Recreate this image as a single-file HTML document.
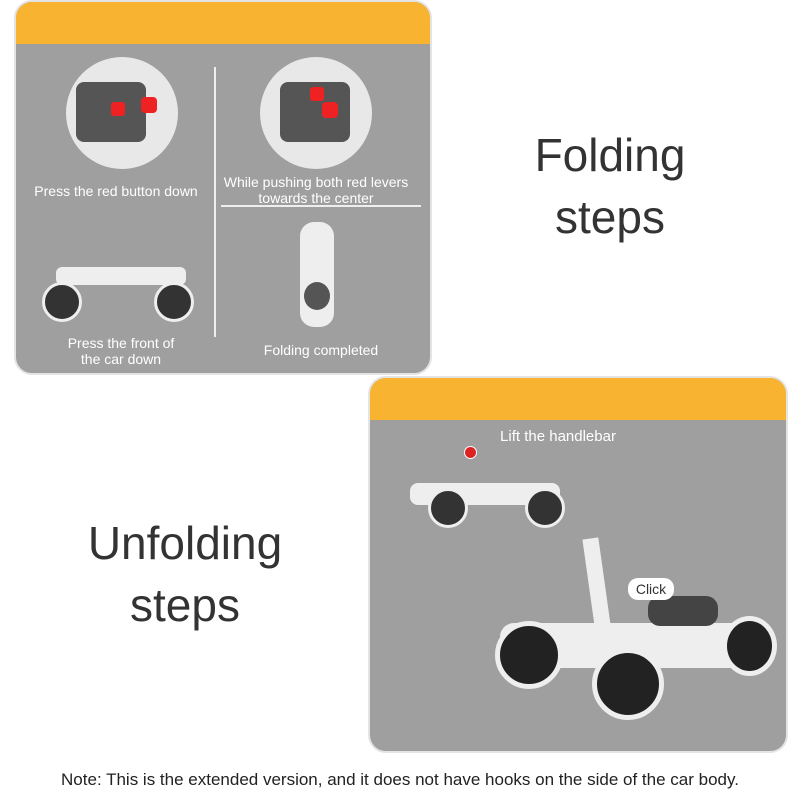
<!DOCTYPE html>
<html><head><meta charset="utf-8"><style>
body{margin:0;width:800px;height:800px;background:#fff;position:relative;overflow:hidden;font-family:"Liberation Sans",sans-serif}
.p{position:absolute;background:#9f9f9f;border-radius:18px;overflow:hidden;border:2px solid #e4e4e4;box-sizing:border-box}
.h{position:absolute;left:0;top:0;right:0;height:42px;background:#f8b431}
.t{position:absolute;color:#fff;font-size:14px;text-align:center;line-height:16px}
.big{position:absolute;color:#333;font-size:46px;text-align:center;line-height:62px}
.c{position:absolute;border-radius:50%;background:#e8e8e8;overflow:hidden}
</style></head><body>
<div class="p" style="left:14px;top:0;width:418px;height:375px">
<div class="h"></div>
<div style="position:absolute;left:198px;top:65px;width:2px;height:270px;background:#eee"></div>
<div style="position:absolute;left:205px;top:203px;width:200px;height:2px;background:#eee"></div>
<div class="c" style="left:50px;top:55px;width:112px;height:112px"><div style="position:absolute;left:10px;top:25px;width:70px;height:60px;background:#555;border-radius:8px"></div><div style="position:absolute;left:45px;top:45px;width:14px;height:14px;background:#e22;border-radius:3px"></div><div style="position:absolute;left:75px;top:40px;width:16px;height:16px;background:#e22;border-radius:4px"></div></div>
<div class="c" style="left:244px;top:55px;width:112px;height:112px"><div style="position:absolute;left:20px;top:25px;width:70px;height:60px;background:#555;border-radius:8px"></div><div style="position:absolute;left:50px;top:30px;width:14px;height:14px;background:#e22;border-radius:3px"></div><div style="position:absolute;left:62px;top:45px;width:16px;height:16px;background:#e22;border-radius:4px"></div></div>
<div class="t" style="left:0;top:181px;width:200px">Press the red button down</div>
<div class="t" style="left:200px;top:172px;width:200px">While pushing both red levers towards the center</div>
<div style="position:absolute;left:26px;top:280px;width:34px;height:34px;border-radius:50%;background:#333;border:3px solid #eee"></div>
<div style="position:absolute;left:138px;top:280px;width:34px;height:34px;border-radius:50%;background:#333;border:3px solid #eee"></div>
<div style="position:absolute;left:40px;top:265px;width:130px;height:18px;background:#eee;border-radius:6px"></div>
<div style="position:absolute;left:284px;top:220px;width:34px;height:105px;background:#eee;border-radius:14px"></div>
<div style="position:absolute;left:288px;top:280px;width:26px;height:28px;background:#555;border-radius:50%"></div>
<div class="t" style="left:10px;top:333px;width:190px">Press the front of<br>the car down</div>
<div class="t" style="left:205px;top:340px;width:200px">Folding completed</div>
</div>
<div class="big" style="left:520px;top:124px;width:180px">Folding<br>steps</div>
<div class="big" style="left:80px;top:512px;width:210px">Unfolding<br>steps</div>
<div class="p" style="left:368px;top:376px;width:420px;height:377px">
<div class="h"></div>
<div class="t" style="left:108px;top:51px;width:160px;font-size:15px">Lift the handlebar</div>
<div style="position:absolute;left:94px;top:68px;width:11px;height:11px;border-radius:50%;background:#d22;border:1px solid #fff"></div>
<div style="position:absolute;left:40px;top:105px;width:150px;height:22px;background:#eee;border-radius:8px"></div>
<div style="position:absolute;left:58px;top:110px;width:34px;height:34px;border-radius:50%;background:#333;border:3px solid #eee"></div>
<div style="position:absolute;left:155px;top:110px;width:34px;height:34px;border-radius:50%;background:#333;border:3px solid #eee"></div>
<div style="position:absolute;left:130px;top:245px;width:250px;height:45px;background:#eee;border-radius:14px"></div>
<div style="position:absolute;left:278px;top:218px;width:70px;height:30px;background:#444;border-radius:12px"></div>
<div style="position:absolute;left:220px;top:160px;width:16px;height:110px;background:#eee;transform:rotate(-8deg)"></div>
<div style="position:absolute;left:125px;top:243px;width:58px;height:58px;border-radius:50%;background:#222;border:5px solid #eee"></div>
<div style="position:absolute;left:222px;top:270px;width:62px;height:62px;border-radius:50%;background:#222;border:5px solid #eee"></div>
<div style="position:absolute;left:352px;top:238px;width:45px;height:50px;border-radius:50%;background:#222;border:5px solid #eee"></div>
<div style="position:absolute;left:258px;top:200px;width:46px;height:22px;background:#fff;border-radius:10px;font-size:14px;text-align:center;line-height:22px;color:#333">Click</div>
</div>
<div style="position:absolute;left:0;top:770px;width:800px;text-align:center;font-size:17px;color:#222">Note: This is the extended version, and it does not have hooks on the side of the car body.</div>
</body></html>
